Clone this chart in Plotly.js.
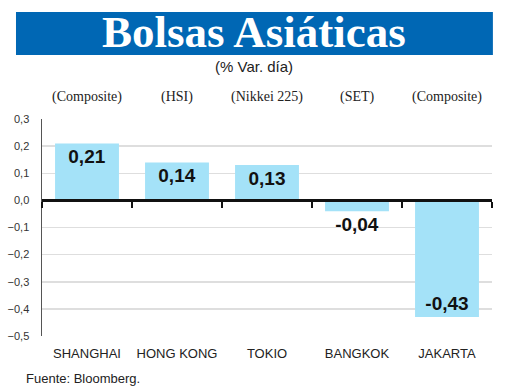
<!DOCTYPE html>
<html>
<head>
<meta charset="utf-8">
<script src="https://cdn.plot.ly/plotly-3.0.1.min.js"></script>
<style>html,body{margin:0;padding:0;background:#fff;}#chart{width:520px;height:390px;}</style>
</head>
<body>
<div id="chart"></div>
<script>
const cities = ['SHANGHAI', 'HONG KONG', 'TOKIO', 'BANGKOK', 'JAKARTA'];
const indices = ['(Composite)', '(HSI)', '(Nikkei 225)', '(SET)', '(Composite)'];
const values = [0.21, 0.14, 0.13, -0.04, -0.43];
const yTicks = [0.3, 0.2, 0.1, 0.0, -0.1, -0.2, -0.3, -0.4, -0.5];

const labels = values.map(v => v.toFixed(2).replace('.', ','));
const positions = values.map(v => Math.abs(v) < 0.08 ? 'outside' : 'inside');
const labelFont = {family: 'Liberation Sans', size: 19, color: '#111', weight: 'bold'};

const traces = [
  {
    type: 'bar', x: cities, y: values,
    marker: {color: '#A4E2F8'},
    width: 0.71,
    text: labels, textposition: positions, insidetextanchor: 'end',
    textangle: 0, cliponaxis: false,
    textfont: labelFont, insidetextfont: labelFont, outsidetextfont: labelFont,
    hoverinfo: 'skip'
  },
  {
    type: 'scatter', mode: 'markers', x: cities, y: values.map(() => null),
    xaxis: 'x2', yaxis: 'y', showlegend: false, hoverinfo: 'skip'
  }
];

const annotations = indices.map((t, i) => ({
  x: cities[i], xref: 'x', y: 1.101, yref: 'paper', text: t, showarrow: false,
  xanchor: 'center', yanchor: 'middle',
  font: {family: 'Liberation Serif', size: 14, color: '#222'}
}));
annotations.push({
  x: 0.472, xref: 'paper', y: 1.40, yref: 'paper', text: 'Bolsas Asiáticas',
  showarrow: false, xanchor: 'center', yanchor: 'middle',
  font: {family: 'Liberation Serif', size: 45, color: '#fff', weight: 'bold'}
});
annotations.push({
  x: 0.472, xref: 'paper', y: 1.24, yref: 'paper', text: '(% Var. día)',
  showarrow: false, xanchor: 'center', yanchor: 'middle',
  font: {family: 'Liberation Sans', size: 15, color: '#222'}
});
annotations.push({
  x: -0.04, xref: 'paper', y: -0.194, yref: 'paper', text: 'Fuente: Bloomberg.',
  showarrow: false, xanchor: 'left', yanchor: 'middle',
  font: {family: 'Liberation Sans', size: 13, color: '#222'}
});

const layout = {
  width: 520, height: 390,
  margin: {l: 42, r: 28, t: 119, b: 54},
  paper_bgcolor: '#fff', plot_bgcolor: '#fff',
  showlegend: false,
  separators: ',.',
  xaxis: {
    type: 'category', categoryarray: cities, range: [-0.5, 4.5],
    showgrid: false, zeroline: false, showline: false, ticks: '',
    ticklabelstandoff: 8,
    tickfont: {family: 'Liberation Sans', size: 13, color: '#222'},
    fixedrange: true
  },
  xaxis2: {
    type: 'category', categoryarray: cities, range: [-0.5, 4.5],
    overlaying: 'x', anchor: 'free', position: 0.625, side: 'bottom',
    showline: true, linecolor: '#111', linewidth: 3,
    ticks: 'outside', tickson: 'boundaries', ticklen: 6, tickwidth: 2, tickcolor: '#111',
    showticklabels: false, showgrid: false, zeroline: false
  },
  yaxis: {
    range: [-0.5, 0.3], tickvals: yTicks, tickformat: '.1f',
    showgrid: true, gridcolor: '#DEDEDE', gridwidth: 1.5,
    zeroline: false, showline: true, linecolor: '#555', linewidth: 1.5,
    ticks: '', ticklabelstandoff: 9,
    tickfont: {family: 'Liberation Sans', size: 11, color: '#333'},
    fixedrange: true
  },
  shapes: [{
    type: 'rect', xref: 'paper', yref: 'paper',
    x0: -0.0578, x1: 1.002, y0: 1.295, y1: 1.493,
    fillcolor: '#0067B4', line: {width: 0}, layer: 'below'
  }],
  annotations: annotations
};

Plotly.newPlot('chart', traces, layout, {displayModeBar: false, staticPlot: true});
</script>
</body>
</html>
